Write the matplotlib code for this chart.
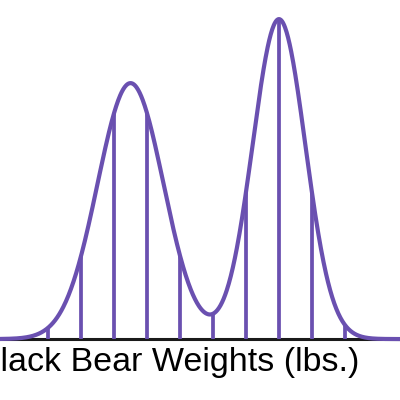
import numpy as np
import matplotlib
matplotlib.use('Agg')
from matplotlib import pyplot as plt

# two-group mixture of black bear weights (lbs.)
means = [162.5, 275.0]
sds = [25.0, 20.0]
weights = [0.5, 0.5]

# weights where the vertical sample lines stand
line_weights = [100, 125, 150, 175, 200, 225, 250, 275, 300, 325]

x_label = 'Black Bear Weights (lbs.)'
purple = '#6a50b0'


def density(x):
    x = np.asarray(x, dtype=float)
    total = np.zeros_like(x)
    for m, s, w in zip(means, sds, weights):
        total += w * np.exp(-0.5 * ((x - m) / s) ** 2) / (s * np.sqrt(2 * np.pi))
    return total


fig = plt.figure(figsize=(4, 4), dpi=100)
ax = fig.add_axes([0, 0, 1, 1])

xs = np.linspace(60, 370, 800)
ax.axhline(0, color='#1a1a1a', lw=2.2, zorder=1)
ax.vlines(line_weights, 0, density(line_weights), color=purple, lw=2.7, zorder=2)
ax.plot(xs, density(xs), color=purple, lw=3.0, zorder=3, solid_capstyle='round')

ax.set_xlim(63.6, 366.7)
ax.set_ylim(-0.0019, 0.01057)
ax.axis('off')

# the label runs off the left edge in the original too
fig.text(359 / 400, 29 / 400, x_label, ha='right', va='baseline',
         fontsize=24.5, family='Liberation Sans', color='black')

fig.savefig('out.png', dpi=100)
